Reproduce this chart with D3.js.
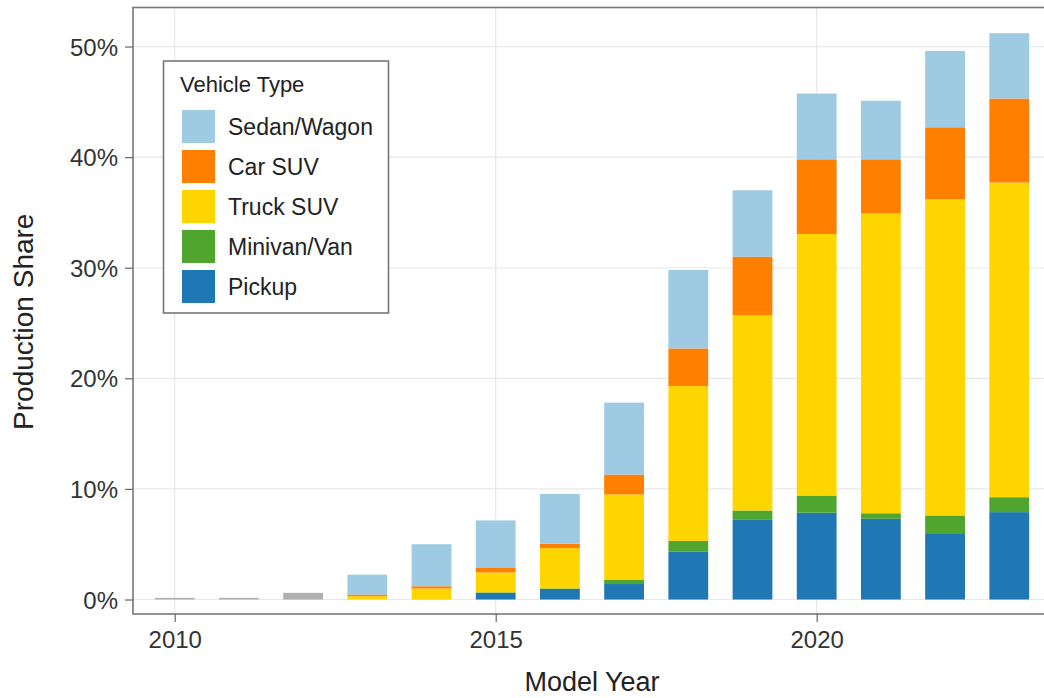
<!DOCTYPE html>
<html>
<head>
<meta charset="utf-8">
<script src="https://cdn.jsdelivr.net/npm/d3@7"></script>
<style>
  body { margin: 0; background: #fff; }
  svg { display: block; font-family: 'Liberation Sans', Arial, sans-serif; }
  .tick text { fill: #333; }
</style>
</head>
<body>
<script>
const years = [2010, 2011, 2012, 2013, 2014, 2015, 2016, 2017, 2018, 2019, 2020, 2021, 2022, 2023];
// production share in percent
const pickup  = [0, 0, 0, 0, 0, 0.6, 0.95, 1.4, 4.35, 7.2, 7.85, 7.3, 6.0, 7.9];
const minivan = [0, 0, 0, 0, 0, 0.05, 0.05, 0.4, 0.95, 0.85, 1.55, 0.5, 1.6, 1.35];
const truckSuv = [0, 0, 0, 0.3, 1.0, 1.8, 3.65, 7.7, 14.0, 17.65, 23.65, 27.1, 28.6, 28.45];
const carSuv  = [0, 0, 0, 0.15, 0.2, 0.4, 0.4, 1.8, 3.4, 5.3, 6.75, 4.9, 6.5, 7.6];
const sedan   = [0, 0, 0, 1.8, 3.8, 4.3, 4.5, 6.5, 7.1, 6.0, 5.95, 5.3, 6.9, 5.9];
// early years drawn in grey in the source
const other   = [0.15, 0.15, 0.6, 0, 0, 0, 0, 0, 0, 0, 0, 0, 0, 0];

const yTicks = [0, 10, 20, 30, 40, 50];
const xTicks = [2010, 2015, 2020];
const legendTypes = ['Sedan/Wagon', 'Car SUV', 'Truck SUV', 'Minivan/Van', 'Pickup'];

document.addEventListener('DOMContentLoaded', () => {
  const w = 1044;
  const h = 698;
  const left = 133, top = 7.5, right = 1051, bottom = 614;

  const keys = ['other', 'pickup', 'minivan', 'truckSuv', 'carSuv', 'sedan'];
  const colors = {
    other: '#b0b0b0',
    pickup: '#1f77b4',
    minivan: '#4fa52e',
    truckSuv: '#ffd500',
    carSuv: '#ff7f00',
    sedan: '#9fcae3'
  };
  const series = { other, pickup, minivan, truckSuv, carSuv, sedan };
  const table = years.map((y, i) => {
    const row = { year: y };
    keys.forEach(k => row[k] = series[k][i]);
    return row;
  });

  const xScale = d3.scaleLinear().domain([2009.35, 2023.65]).range([left, right]);
  const yScale = d3.scaleLinear().domain([-1.31, 53.53]).range([bottom, top]);
  const barW = xScale(2010.62) - xScale(2010);

  const svg = d3.select('body').append('svg').attr('width', w).attr('height', h);

  // grid
  svg.append('g').selectAll('line').data(yTicks).enter().append('line')
     .attr('x1', left).attr('x2', right)
     .attr('y1', d => yScale(d)).attr('y2', d => yScale(d))
     .style('stroke', '#e8e8e8').style('stroke-width', 1.2);
  svg.append('g').selectAll('line').data(xTicks).enter().append('line')
     .attr('y1', top).attr('y2', bottom)
     .attr('x1', d => xScale(d)).attr('x2', d => xScale(d))
     .style('stroke', '#e8e8e8').style('stroke-width', 1.2);

  const stacked = d3.stack().keys(keys)(table);
  svg.append('g').selectAll('g').data(stacked).enter().append('g')
     .style('fill', d => colors[d.key])
     .selectAll('rect').data(d => d).enter().append('rect')
     .attr('x', d => xScale(d.data.year) - barW / 2)
     .attr('width', barW)
     .attr('y', d => yScale(d[1]))
     .attr('height', d => yScale(d[0]) - yScale(d[1]));

  // panel border
  svg.append('rect')
     .attr('x', left).attr('y', top)
     .attr('width', right - left).attr('height', bottom - top)
     .style('fill', 'none').style('stroke', '#777').style('stroke-width', 1.6);

  const xAxis = d3.axisBottom(xScale).tickValues(xTicks).tickFormat(d3.format('d')).tickSize(8).tickSizeOuter(0);
  const yAxis = d3.axisLeft(yScale).tickValues(yTicks).tickFormat(d => d + '%').tickSize(8).tickSizeOuter(0);

  const gx = svg.append('g').attr('transform', 'translate(0,' + bottom + ')').call(xAxis);
  const gy = svg.append('g').attr('transform', 'translate(' + left + ',0)').call(yAxis);
  [gx, gy].forEach(g => {
    g.select('.domain').remove();
    g.selectAll('.tick line').style('stroke', '#666').style('stroke-width', 1.2);
    g.selectAll('.tick text').style('font-size', '24px');
  });
  gx.selectAll('.tick text').attr('dy', null).attr('y', 34);
  gy.selectAll('.tick text').attr('x', -15).attr('dy', '0.36em');

  svg.append('text').text('Model Year')
     .attr('x', (left + right) / 2).attr('y', 691)
     .attr('text-anchor', 'middle').style('font-size', '27px').style('fill', '#222');
  svg.append('text').text('Production Share')
     .attr('transform', 'translate(33,' + ((top + bottom) / 2 + 11) + ')rotate(-90)')
     .attr('text-anchor', 'middle').style('font-size', '28px').style('fill', '#222');

  // legend
  const legendColors = ['sedan', 'carSuv', 'truckSuv', 'minivan', 'pickup'];
  const lg = svg.append('g');
  lg.append('rect').attr('x', 163.5).attr('y', 61).attr('width', 225).attr('height', 252)
    .style('fill', '#fff').style('stroke', '#777').style('stroke-width', 1.6);
  lg.append('text').text('Vehicle Type').attr('x', 180).attr('y', 92)
    .style('font-size', '22px').style('fill', '#222');
  legendTypes.forEach((t, i) => {
    lg.append('rect').attr('x', 182).attr('y', 110 + i * 40).attr('width', 33).attr('height', 33)
      .style('fill', colors[legendColors[i]]);
    lg.append('text').text(t).attr('x', 228).attr('y', 126.5 + i * 40).attr('dy', '0.36em')
      .style('font-size', '23px').style('fill', '#222');
  });
});
</script>
</body>
</html>
